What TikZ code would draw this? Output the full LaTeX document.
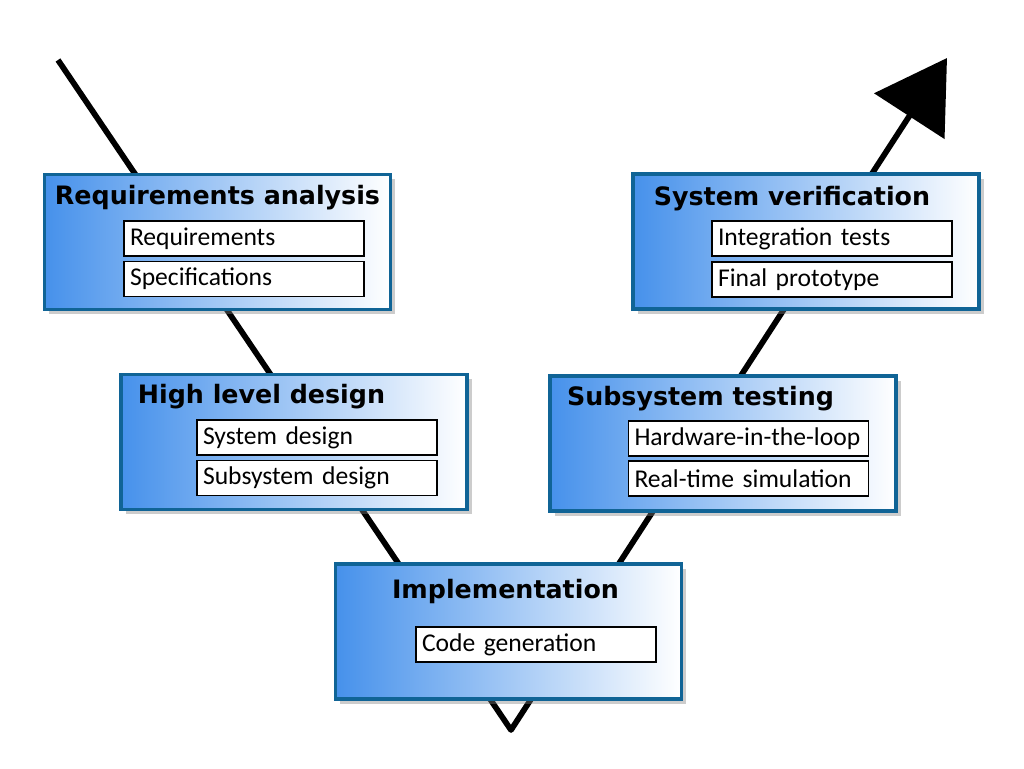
\documentclass[tikz,border=0pt]{standalone}
\usepackage{fontspec}
\setmainfont{Carlito}
\newfontfamily\titlefont{DejaVu Sans}
\usetikzlibrary{arrows.meta,shadows}

\definecolor{phaseedge}{RGB}{16,100,150}
\definecolor{phaseblue}{RGB}{70,145,235}

\tikzset{every picture/.style={line width=0.75pt}}
\tikzset{
	phase/.style={draw=phaseedge, line width=2.4pt, left color=phaseblue, right color=white,
		minimum width=346pt*0.75, minimum height=135pt*0.75,
		drop shadow={opacity=0.4, shadow xshift=3.5pt, shadow yshift=-3.5pt}},
	phasetitle/.style={font=\titlefont\bfseries\fontsize{19}{21}\selectfont, inner sep=0pt},
	task/.style={draw=black, line width=1pt, fill=white, minimum width=240pt*0.75,
		minimum height=35pt*0.75, text width=228pt*0.75, align=left,
		inner xsep=6pt*0.75, inner ysep=0pt,
		font=\fontsize{19.2}{21}\selectfont},
	vline/.style={line width=4.3pt, line join=round}
}

\begin{document}
\begin{tikzpicture}[x=0.75pt,y=0.75pt,yscale=-1,xscale=1]
		\useasboundingbox (0,0) rectangle (1024,768);
		
		% V path
		\coordinate (start) at (58,60);
		\coordinate (bottom) at (511,730);
		\coordinate (finish) at (947,58);
		\draw [vline, -{Triangle[length=52pt, width=62pt]}] (start) -- (bottom) -- (finish);
		
		% Requirements analysis
		\node [phase] (req) at (217.5,242) {};
		\node [phasetitle] (reqtitle) at (217.5,198) {Requirements analysis};
		\node [task] (req1) at (244,238.5) {Requirements};
		\node [task] (req2) at (244,279) {Specifications};
		
		% High level design
		\node [phase] (hld) at (294,442) {};
		\node [phasetitle] (hldtitle) at (261.5,397) {High level design};
		\node [task] (hld1) at (317,437.5) {System design};
		\node [task] (hld2) at (317,478) {Subsystem design};
		
		% Implementation
		\node [phase] (impl) at (508.5,631.5) {};
		\node [phasetitle] (impltitle) at (505.5,592) {Implementation};
		\node [task] (impl1) at (536,644.5) {Code generation};
		
		% Subsystem testing
		\node [phase] (sst) at (723,443.5) {};
		\node [phasetitle] (ssttitle) at (700.5,399) {Subsystem testing};
		\node [task] (sst1) at (748.5,438.5) {Hardware-in-the-loop};
		\node [task] (sst2) at (748.5,478.5) {Real-time simulation};
		
		% System verification
		\node [phase] (sver) at (806,241.5) {};
		\node [phasetitle] (svertitle) at (792,199) {System verification};
		\node [task] (sver1) at (832,238.5) {Integration tests};
		\node [task] (sver2) at (832,279.5) {Final prototype};
		
\end{tikzpicture}
\end{document}
